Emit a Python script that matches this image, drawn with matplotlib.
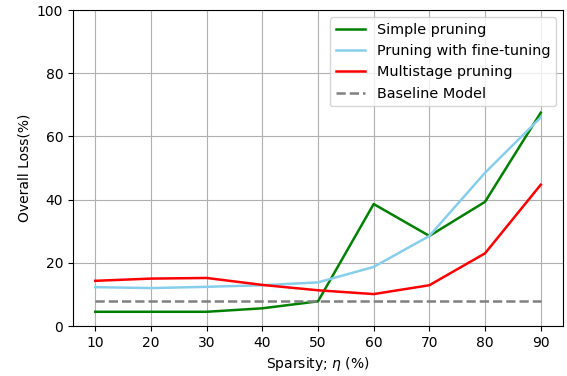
import matplotlib
matplotlib.use("Agg")
import matplotlib.pyplot as plt

sparsity = [10, 20, 30, 40, 50, 60, 70, 80, 90]
simple = [4.5, 4.5, 4.5, 5.6, 7.8, 38.6, 28.5, 39.3, 67.5]
finetune = [12.3, 12.0, 12.4, 12.9, 13.8, 18.7, 28.5, 48.5, 66.0]
multistage = [14.3, 15.0, 15.2, 13.0, 11.3, 10.1, 12.9, 23.0, 44.7]
baseline = [8.0] * len(sparsity)

fig = plt.figure(figsize=(5.67, 3.76), dpi=100)
ax = fig.add_axes([73/567, 50/376, 490/567, 316/376])
ax.plot(sparsity, simple, color="green", lw=1.8, label="Simple pruning")
ax.plot(sparsity, finetune, color="skyblue", lw=1.8, label="Pruning with fine-tuning")
ax.plot(sparsity, multistage, color="red", lw=1.8, label="Multistage pruning")
ax.plot(sparsity, baseline, color="gray", lw=1.8, linestyle="--", label="Baseline Model")
ax.set_ylim(0, 100)
ax.set_xticks(sparsity)
ax.grid(True)
ax.set_axisbelow(True)
ax.set_xlabel(r"Sparsity; $\eta$ (%)")
ax.set_ylabel("Overall Loss(%)")
ax.legend(loc="upper right", fontsize=10.4)
fig.savefig("out.png", dpi=100)
